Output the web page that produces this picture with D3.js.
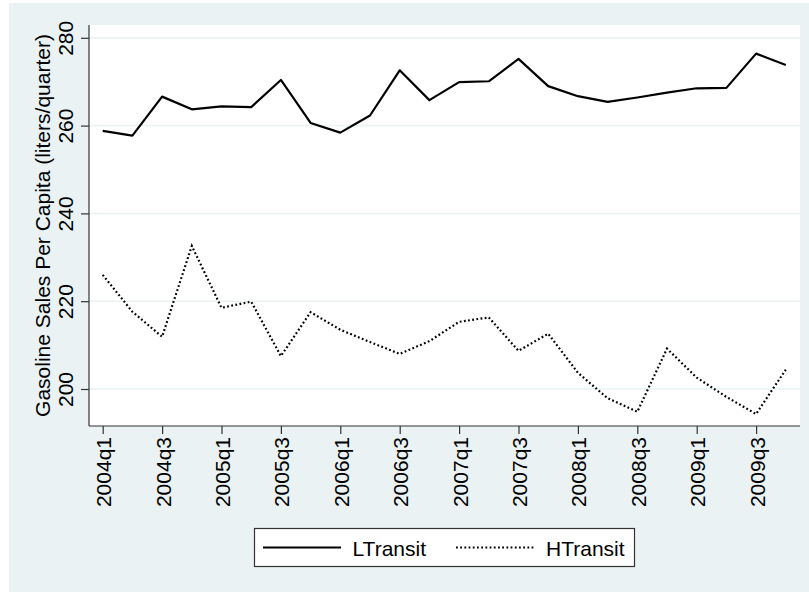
<!DOCTYPE html>
<html>
<head>
<meta charset="utf-8">
<script src="https://cdn.jsdelivr.net/npm/d3@7"></script>
<style>
  body { margin: 0; background: #fff; }
  text { font-family: "Liberation Sans", Arial, sans-serif; fill: #000; }
</style>
</head>
<body>
<script>
var width = 809;
var height = 592;

// quarters 2004q1 .. 2009q4
var quarters = ["2004q1","2004q2","2004q3","2004q4","2005q1","2005q2","2005q3","2005q4",
  "2006q1","2006q2","2006q3","2006q4","2007q1","2007q2","2007q3","2007q4",
  "2008q1","2008q2","2008q3","2008q4","2009q1","2009q2","2009q3","2009q4"];

var lTransit = [258.8, 257.7, 266.6, 263.7, 264.4, 264.2, 270.4, 260.6,
  258.4, 262.3, 272.6, 265.8, 269.9, 270.1, 275.2, 269.0,
  266.7, 265.4, 266.4, 267.5, 268.5, 268.6, 276.4, 273.8];

var hTransit = [226.0, 217.6, 211.9, 232.6, 218.5, 219.9, 207.5, 217.5,
  213.5, 210.7, 208.0, 210.9, 215.3, 216.3, 208.7, 212.6,
  203.7, 197.9, 194.8, 209.2, 202.6, 198.2, 194.3, 204.4];

var yTicks = [200, 220, 240, 260, 280];
var xTickLabels = quarters.filter(function(d, i) { return i % 2 == 0; });

var seriesNames = ["LTransit", "HTransit"];

var plot = {left: 89, right: 800, top: 25, bottom: 426};
var fontSize = "21px";

var svg = d3.select("body")
  .append("svg")
  .attr("width", width)
  .attr("height", height);

// outer background
svg.append("rect")
  .attr("x", 9).attr("y", 3)
  .attr("width", width - 9).attr("height", height - 3)
  .attr("fill", "#eaf2f3");

// plot region
svg.append("rect")
  .attr("x", plot.left).attr("y", plot.top)
  .attr("width", plot.right - plot.left).attr("height", plot.bottom - plot.top)
  .attr("fill", "#fff");

var x = d3.scalePoint()
  .domain(quarters)
  .range([102.7, 785.8]);

var y = d3.scaleLinear()
  .domain([200, 280])
  .range([389, 37.8]);

// gridlines
svg.append("g")
  .selectAll("line")
  .data(yTicks)
  .enter()
  .append("line")
  .attr("x1", plot.left).attr("x2", plot.right)
  .attr("y1", function(d) { return y(d); })
  .attr("y2", function(d) { return y(d); })
  .attr("stroke", "#eaf2f3")
  .attr("stroke-width", 1.5);

// y axis
var yAxis = svg.append("g")
  .attr("transform", "translate(" + plot.left + ",0)")
  .call(d3.axisLeft(y).tickValues(yTicks).tickSize(8).tickSizeOuter(0));
yAxis.select(".domain").remove();
yAxis.selectAll(".tick line").attr("stroke", "#333").attr("stroke-width", 1.2);
yAxis.selectAll(".tick text")
  .attr("x", null).attr("dy", null)
  .attr("transform", "translate(-16,0) rotate(-90)")
  .attr("text-anchor", "middle")
  .style("font-size", fontSize)
  .style("font-family", "Liberation Sans, Arial, sans-serif");

svg.append("line")
  .attr("x1", plot.left).attr("x2", plot.left)
  .attr("y1", plot.top).attr("y2", plot.bottom)
  .attr("stroke", "#333").attr("stroke-width", 1.2);

// x axis
var xAxis = svg.append("g")
  .attr("transform", "translate(0," + plot.bottom + ")")
  .call(d3.axisBottom(x).tickValues(xTickLabels).tickSize(8).tickSizeOuter(0));
xAxis.select(".domain").remove();
xAxis.selectAll(".tick line").attr("stroke", "#333").attr("stroke-width", 1.2);
xAxis.selectAll(".tick text")
  .attr("y", null).attr("dy", null)
  .attr("transform", "translate(8,11) rotate(-90)")
  .attr("text-anchor", "end")
  .style("font-size", fontSize)
  .style("font-family", "Liberation Sans, Arial, sans-serif");

svg.append("line")
  .attr("x1", plot.left).attr("x2", plot.right)
  .attr("y1", plot.bottom).attr("y2", plot.bottom)
  .attr("stroke", "#333").attr("stroke-width", 1.2);

// y axis title
svg.append("text")
  .attr("transform", "translate(50," + ((plot.top + plot.bottom) / 2) + ") rotate(-90)")
  .attr("text-anchor", "middle")
  .style("font-size", fontSize)
  .text("Gasoline Sales Per Capita (liters/quarter)");

// lines
var line = d3.line()
  .x(function(d, i) { return x(quarters[i]); })
  .y(function(d) { return y(d); });

svg.append("path")
  .datum(lTransit)
  .attr("d", line)
  .attr("fill", "none")
  .attr("stroke", "#000")
  .attr("stroke-width", 2.2)
  .attr("stroke-linejoin", "round");

svg.append("path")
  .datum(hTransit)
  .attr("d", line)
  .attr("fill", "none")
  .attr("stroke", "#000")
  .attr("stroke-width", 2.2)
  .attr("stroke-dasharray", "1.8,2.4");

// legend
var legend = svg.append("g");
legend.append("rect")
  .attr("x", 254.5).attr("y", 528.5)
  .attr("width", 380).attr("height", 38)
  .attr("fill", "#fff")
  .attr("stroke", "#333")
  .attr("stroke-width", 1.2);

var legendItems = [
  {name: seriesNames[0], x0: 263, x1: 341, tx: 352.5, dash: null},
  {name: seriesNames[1], x0: 456, x1: 534, tx: 546, dash: "1.8,2.4"}
];

legend.selectAll(".key")
  .data(legendItems)
  .enter()
  .append("line")
  .attr("x1", function(d) { return d.x0; })
  .attr("x2", function(d) { return d.x1; })
  .attr("y1", 547.5).attr("y2", 547.5)
  .attr("stroke", "#000")
  .attr("stroke-width", 2.2)
  .attr("stroke-dasharray", function(d) { return d.dash; });

legend.selectAll(".lab")
  .data(legendItems)
  .enter()
  .append("text")
  .attr("x", function(d) { return d.tx; })
  .attr("y", 555.5)
  .style("font-size", fontSize)
  .text(function(d) { return d.name; });
</script>
</body>
</html>
